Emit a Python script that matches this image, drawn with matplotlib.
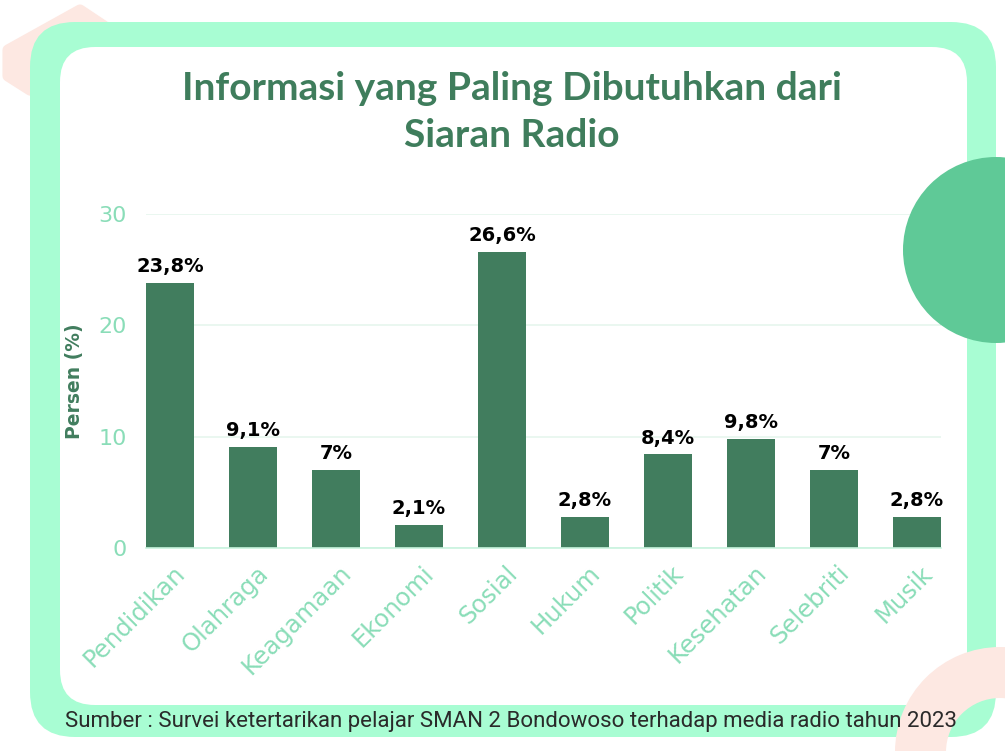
import matplotlib
matplotlib.use("Agg")
import matplotlib.pyplot as plt
from matplotlib.patches import FancyBboxPatch, Circle, Wedge, Polygon
from matplotlib.transforms import ScaledTranslation

categories = ["Pendidikan", "Olahraga", "Keagamaan", "Ekonomi", "Sosial",
              "Hukum", "Politik", "Kesehatan", "Selebriti", "Musik"]
values = [23.8, 9.1, 7.0, 2.1, 26.6, 2.8, 8.4, 9.8, 7.0, 2.8]
value_labels = ["23,8%", "9,1%", "7%", "2,1%", "26,6%", "2,8%", "8,4%", "9,8%", "7%", "2,8%"]
yticks = [0, 10, 20, 30]

W, H = 1005, 751
fig = plt.figure(figsize=(W / 100, H / 100), dpi=100)
fig.patch.set_facecolor("white")

MINT = "#A8FDD3"
PINK = "#FDE8E2"
DARK = "#417D5E"
TICK = "#8ADDB8"

# background decorations
bg = fig.add_axes([0, 0, 1, 1], zorder=0)
bg.set_xlim(0, W)
bg.set_ylim(H, 0)
bg.axis("off")
bg.add_patch(Polygon([(8, 50), (80, 10), (110, 30), (110, 110), (30, 90), (8, 76)],
                     closed=True, facecolor=PINK, edgecolor=PINK, linewidth=8,
                     joinstyle="round"))
bg.add_patch(FancyBboxPatch((30 + 45, 22 + 45), 966 - 90, 715 - 90,
                            boxstyle="round,pad=45", facecolor=MINT, edgecolor="none"))
bg.add_patch(FancyBboxPatch((60 + 35, 47 + 35), 907 - 70, 658 - 70,
                            boxstyle="round,pad=35", facecolor="white", edgecolor="none"))

# chart
ax = fig.add_axes([146 / W, 1 - 548 / H, 795 / W, 334 / H], zorder=1)
ax.set_facecolor("none")
x = list(range(len(categories)))
ax.bar(x, values, width=0.58, color=DARK, zorder=2)
for xi, v, lab in zip(x, values, value_labels):
    ax.annotate(lab, (xi, v), xytext=(0, 5), textcoords="offset points",
                ha="center", va="bottom", fontsize=14, fontweight="bold",
                color="black", family="DejaVu Sans", zorder=3)
ax.set_xlim(-0.29, len(categories) - 1 + 0.29)
ax.set_ylim(0, 30)
ax.set_yticks(yticks)
ax.set_yticklabels([str(t) for t in yticks], color=TICK, fontsize=16, family="DejaVu Sans")
ax.tick_params(axis="y", length=0, pad=14)
ax.grid(axis="y", color="#E6F6EE", linewidth=1.2, zorder=0)
ax.set_axisbelow(True)
for s in ["top", "right", "left"]:
    ax.spines[s].set_visible(False)
ax.spines["bottom"].set_color("#C8F3DE")
ax.spines["bottom"].set_linewidth(1.2)
ax.set_xticks(x)
ax.set_xticklabels(categories, rotation=45, ha="right", va="top",
                   rotation_mode="anchor", color=TICK, fontsize=17.5, family="DejaVu Sans")
ax.tick_params(axis="x", length=0, pad=0)
off = ScaledTranslation(3 / 100, -13 / 100, fig.dpi_scale_trans)
for lab in ax.get_xticklabels():
    lab.set_transform(lab.get_transform() + off)
ax.set_ylabel("Persen (%)", color=DARK, fontsize=13.5, fontweight="bold",
              family="DejaVu Sans")
ax.yaxis.set_label_coords(-62 / 795, 0.5)

# foreground decorations
fg = fig.add_axes([0, 0, 1, 1], zorder=2)
fg.set_xlim(0, W)
fg.set_ylim(H, 0)
fg.axis("off")
fg.add_patch(Circle((996, 250), 93, facecolor="#5FC997", edgecolor="none"))
fg.add_patch(Wedge((1000, 752), 105, 0, 360, width=51, facecolor=PINK, edgecolor="none"))

fig.text(512 / W, 1 - 112 / H, "Informasi yang Paling Dibutuhkan dari\nSiaran Radio",
         ha="center", va="center", fontsize=28, fontweight="bold", color="#3F7D5C",
         family="Lato", linespacing=1.4, zorder=5)
fig.text(65 / W, 1 - 721 / H,
         "Sumber : Survei ketertarikan pelajar SMAN 2 Bondowoso terhadap media radio tahun 2023",
         ha="left", va="center", fontsize=16, color="#2A2A2A", family="Roboto", zorder=5)

fig.savefig("out.png", dpi=100)
